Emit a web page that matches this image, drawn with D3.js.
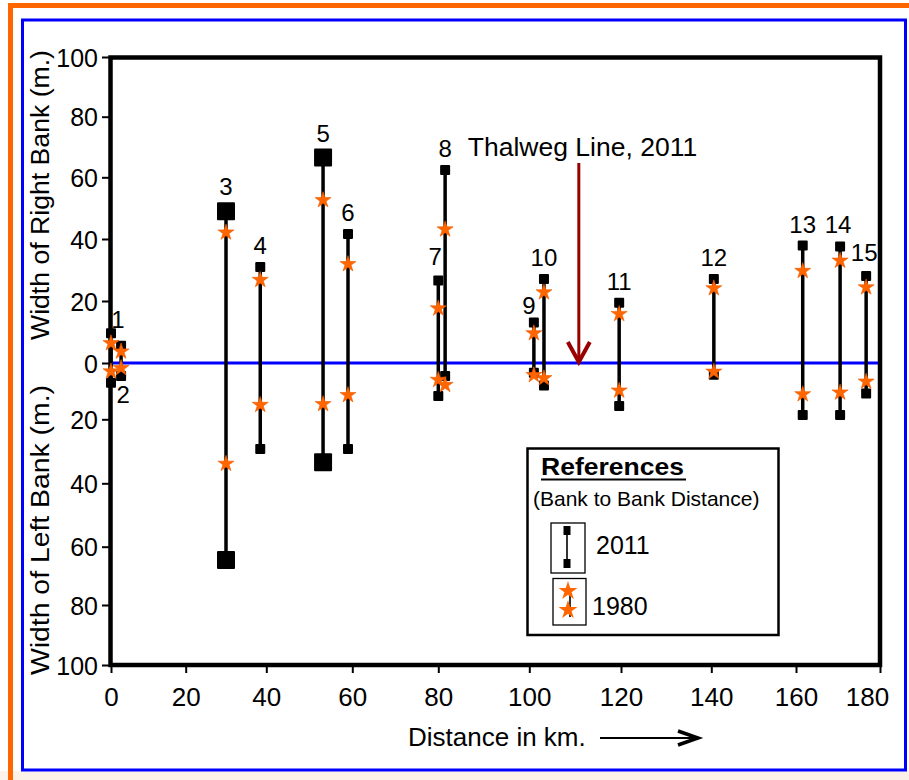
<!DOCTYPE html>
<html><head><meta charset="utf-8">
<script src="https://cdn.jsdelivr.net/npm/d3@7"></script>
<style>
html,body{margin:0;padding:0;background:#fff;}
svg{display:block;font-family:"Liberation Sans",Arial,Helvetica,sans-serif;}
</style></head><body>
<svg id="chart" width="909" height="780"></svg>
<script>
// ---------------- DATA ----------------
const stations   = [1, 2, 3, 4, 5, 6, 7, 8, 9, 10, 11, 12, 13, 14, 15];
const distanceKm = [0, 2.7, 30, 38.5, 53.2, 59, 80, 81.5, 101, 103.2, 119.6, 140.6, 161.6, 170.5, 176.7];
const right2011  = [9.6, 5.6, 49, 31, 66.5, 41.6, 26.6, 62.4, 13.1, 27.1, 19.4, 27.1, 37.9, 37.6, 28.1];
const left2011   = [7, 4.6, 64.6, 29.3, 33.4, 29.3, 11.7, 4.6, 3.5, 8, 15.3, 4.2, 18.5, 18.5, 10.8];
const right1980  = [6.4, 3.7, 42.1, 26.8, 52.6, 31.9, 17.6, 43.1, 9.6, 22.8, 15.8, 24.1, 29.7, 33, 24.4];
const left1980   = [3, 1.8, 33.9, 14.9, 14.6, 11.4, 6, 7.8, 4.3, 5.4, 9.8, 3.1, 11.1, 10.5, 6.6];
const xTicks     = [0, 20, 40, 60, 80, 100, 120, 140, 160, 180];
const yTicks     = [100, 80, 60, 40, 20, 0, -20, -40, -60, -80, -100];
const thalwegKm  = 110.8;
const thalwegLabel = "Thalweg Line, 2011";
const xTitle = "Distance in km.";
const yTitleRight = "Width of Right Bank (m.)";
const yTitleLeft = "Width of Left Bank (m.)";
const legendTitle = "References";
const legendSub = "(Bank to Bank Distance)";
const legendYears = ["2011", "1980"];

// ---------------- STYLE / LAYOUT ----------------
const bigMarkerStations = [3, 5];
const labelOffsets = {1:{dx:7,dy:-5}, 2:{below:true,dx:2,dy:27}, 7:{dx:-3,dy:-16}, 9:{dx:-5,dy:-8}, 14:{dx:-2,dy:-13}, 15:{dx:-2,dy:-15}};
const ORANGE = "#FF6600", BLUE = "#0000FF", DARKRED = "#990000";

const svg = d3.select("#chart");

// page frames
svg.append("rect").attr("x",0).attr("y",771).attr("width",909).attr("height",9).attr("fill","#FDF2EA");
svg.append("rect").attr("x",10.5).attr("y",5.5).attr("width",1200).attr("height",1200)
  .attr("fill","none").attr("stroke",ORANGE).attr("stroke-width",5);
svg.append("rect").attr("x",22.5).attr("y",20).attr("width",883).attr("height",750)
  .attr("fill","#fff").attr("stroke",BLUE).attr("stroke-width",3);

// scales (the reference axis spacing is irregular, so ticks are mapped piecewise)
const x = d3.scaleLinear().domain(xTicks)
  .range([111, 185.7, 266.3, 352.3, 438.3, 529.3, 621, 711.3, 796, 880]);
const y = d3.scaleLinear().domain(yTicks)
  .range([57, 116.7, 177.3, 239, 301, 363, 419.3, 483.3, 546.7, 605, 665]);

// axes
const gy = svg.append("g").attr("transform", `translate(${x(0)-1},0)`)
  .call(d3.axisLeft(y).tickValues(yTicks).tickFormat(d => Math.abs(d)).tickSize(8).tickPadding(4));
gy.select(".domain").remove();
gy.selectAll("line").attr("stroke","#000").attr("stroke-width",2);
gy.selectAll("text").attr("font-size",25).attr("fill","#000").attr("font-family",null).attr("dy","0.36em");

const gx = svg.append("g").attr("transform", `translate(0,${y(-100)})`)
  .call(d3.axisBottom(x).tickValues(xTicks).tickSize(8));
gx.select(".domain").remove();
gx.selectAll("line").attr("stroke","#000").attr("stroke-width",2);
gx.selectAll("text").attr("font-size",26).attr("fill","#000").attr("font-family",null)
  .attr("dy",0).attr("y",41).attr("dx", d => d === 180 ? -13 : 0);

// plot frame
svg.append("rect").attr("x", x(0)-0.5).attr("y", y(100)+0.5)
  .attr("width", x(180)-x(0)+0.5).attr("height", y(-100)-y(100)-0.5)
  .attr("fill","none").attr("stroke","#000").attr("stroke-width",4.5);

// zero line
svg.append("line").attr("x1", x(0)+2).attr("x2", x(180)-2).attr("y1", y(0)).attr("y2", y(0))
  .attr("stroke", BLUE).attr("stroke-width", 3);

// axis titles
svg.append("text").attr("transform", `translate(49,${195}) rotate(-90)`)
  .attr("text-anchor","middle").attr("font-size",26).attr("textLength",290).attr("lengthAdjust","spacingAndGlyphs")
  .text(yTitleRight);
svg.append("text").attr("transform", `translate(49,${530}) rotate(-90)`)
  .attr("text-anchor","middle").attr("font-size",26).attr("textLength",290).attr("lengthAdjust","spacingAndGlyphs")
  .text(yTitleLeft);
svg.append("text").attr("x",408).attr("y",746).attr("font-size",26).text(xTitle);
svg.append("line").attr("x1",600).attr("x2",694).attr("y1",738).attr("y2",738).attr("stroke","#000").attr("stroke-width",2);
svg.append("path").attr("d","M678,731 L698,738 L678,745").attr("fill","none").attr("stroke","#000").attr("stroke-width",3.5);

// data rows
const rows = stations.map((s,i) => ({s, km: distanceKm[i], r11: right2011[i], l11: left2011[i], r80: right1980[i], l80: left1980[i],
  half: bigMarkerStations.includes(s) ? 9 : 5}));

// station lines
svg.append("g").selectAll("line").data(rows).join("line")
  .attr("x1", d => x(d.km)).attr("x2", d => x(d.km))
  .attr("y1", d => y(d.r11)).attr("y2", d => y(-d.l11))
  .attr("stroke","#000").attr("stroke-width",3.5);

// 2011 square markers
const sq = [];
rows.forEach(d => { sq.push({d, v: d.r11}); sq.push({d, v: -d.l11}); });
svg.append("g").selectAll("rect").data(sq).join("rect")
  .attr("x", p => x(p.d.km) - p.d.half).attr("y", p => y(p.v) - p.d.half)
  .attr("width", p => p.d.half*2).attr("height", p => p.d.half*2)
  .attr("rx", 1).attr("fill","#000");

// 1980 stars
const st = [];
rows.forEach(d => { st.push({d, v: d.r80}); st.push({d, v: -d.l80}); });
const star = d3.symbol(d3.symbolStar, 80);
svg.append("g").selectAll("path").data(st).join("path")
  .attr("transform", p => `translate(${x(p.d.km)},${y(p.v)})`)
  .attr("d", star).attr("fill", ORANGE).attr("stroke","#F05A00").attr("stroke-width",0.6);

// station labels
svg.append("g").selectAll("text").data(rows).join("text")
  .attr("text-anchor","middle").attr("font-size",24)
  .attr("x", d => x(d.km) + ((labelOffsets[d.s] && labelOffsets[d.s].dx) || 0))
  .attr("y", d => {
    const o = labelOffsets[d.s];
    if (o && o.below) return y(-d.l11) + o.dy;
    if (o && o.dy !== undefined) return y(d.r11) + o.dy;
    return y(d.r11) - (d.half === 9 ? 16 : 13);
  })
  .text(d => d.s);

// thalweg arrow
const tx = x(thalwegKm);
svg.append("text").attr("x", tx - 111).attr("y", 156).attr("font-size",26.5).text(thalwegLabel);
svg.append("line").attr("x1", tx).attr("x2", tx).attr("y1", 163).attr("y2", y(0)-2)
  .attr("stroke", DARKRED).attr("stroke-width",3);
svg.append("path").attr("d", `M${tx-11},${y(0)-21} L${tx},${y(0)-1} L${tx+11},${y(0)-21}`)
  .attr("fill","none").attr("stroke", DARKRED).attr("stroke-width",4).attr("stroke-linejoin","miter");

// legend
const lg = svg.append("g");
lg.append("rect").attr("x",527.5).attr("y",448.5).attr("width",251).attr("height",186.5)
  .attr("fill","#fff").attr("stroke","#000").attr("stroke-width",2.5);
lg.append("text").attr("x",541).attr("y",475).attr("font-size",24).attr("font-weight","bold")
  .attr("textLength",143).attr("lengthAdjust","spacingAndGlyphs").text(legendTitle);
lg.append("line").attr("x1",541).attr("x2",686).attr("y1",479.5).attr("y2",479.5).attr("stroke","#000").attr("stroke-width",1.8);
lg.append("text").attr("x",533).attr("y",506).attr("font-size",21).text(legendSub);
// 2011 item
lg.append("rect").attr("x",551).attr("y",523).attr("width",34).attr("height",50).attr("fill","none").attr("stroke","#000").attr("stroke-width",1.3);
lg.append("line").attr("x1",567).attr("x2",567).attr("y1",530).attr("y2",563).attr("stroke","#000").attr("stroke-width",1.6);
lg.append("rect").attr("x",563.5).attr("y",526).attr("width",7).attr("height",9).attr("fill","#000");
lg.append("rect").attr("x",563.5).attr("y",559).attr("width",7).attr("height",9).attr("fill","#000");
lg.append("text").attr("x",596).attr("y",554).attr("font-size",25).text(legendYears[0]);
// 1980 item
lg.append("rect").attr("x",553).attr("y",578.5).attr("width",33).attr("height",46.5).attr("fill","none").attr("stroke","#000").attr("stroke-width",1.3);
lg.append("line").attr("x1",570).attr("x2",570).attr("y1",590).attr("y2",617).attr("stroke","#000").attr("stroke-width",1.6);
const legendStar = d3.symbol(d3.symbolStar, 110);
lg.append("path").attr("transform","translate(568,591)").attr("d", legendStar).attr("fill",ORANGE);
lg.append("path").attr("transform","translate(568,610)").attr("d", legendStar).attr("fill",ORANGE);
lg.append("text").attr("x",592).attr("y",615).attr("font-size",25).text(legendYears[1]);
</script>
</body></html>
